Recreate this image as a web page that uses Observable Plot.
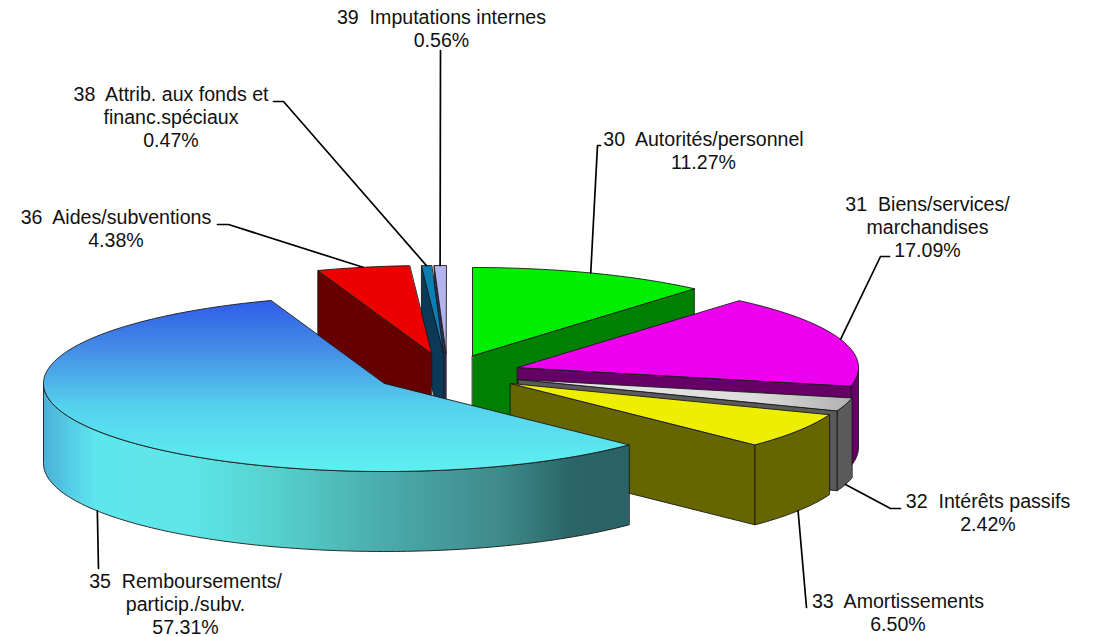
<!DOCTYPE html>
<html>
<head>
<meta charset="utf-8">
<style>html,body{margin:0;padding:0;background:#fff}</style>
<script src="https://cdn.jsdelivr.net/npm/d3@7"></script>
<script src="https://cdn.jsdelivr.net/npm/@observablehq/plot@0.6"></script>
</head>
<body>
<div id="chart"></div>
<script>
// Data
const codes = ["30", "31", "32", "33", "35", "36", "38", "39"];
const labels = [
  "Autorités/personnel",
  "Biens/services/\nmarchandises",
  "Intérêts passifs",
  "Amortissements",
  "Remboursements/\nparticip./subv.",
  "Aides/subventions",
  "Attrib. aux fonds et\nfinanc.spéciaux",
  "Imputations internes"
];
const shares = [11.27, 17.09, 2.42, 6.50, 57.31, 4.38, 0.47, 0.56];

// Styles
const topFills = ["#00ee00", "#ee00ee", "url(#grayTop)", "#eeee00", "url(#blueTop)", "#ee0000", "#0a7fb5", "#b3b3ee"];
const wallFills = ["#008000", "#660066", "#5a5a5a", "#666600", "url(#blueWall)", "#660000", "#0b3a58", "#2e2e5c"];

// Layout of the exploded pie
const rx = 341, ry = 88, depth = 80;
const centreX = [472, 517, 518, 510, 384, 431, 443, 445.6];
const centreY = [355, 367, 379, 383, 383, 353, 353, 353];
const drawOrder = [0, 7, 6, 5, 1, 2, 3, 4];
const labelX = [703, 927, 987.5, 897.5, 185, 115.5, 170.5, 441];
const labelY = [149.5, 226.5, 512, 611.5, 603, 227.5, 116.5, 27.5];
const elbowX = [[597, 600], [880, 889], [890, 900], [806], [98], [228, 217], [283, 273], [440]];
const elbowY = [[145, 145], [256, 256], [508, 508], [607], [568], [224, 224], [101, 101], [50]];

const RAD = Math.PI / 180;
const cum = d3.cumsum(shares);
const startDeg = shares.map((s, i) => (cum[i] - s) * 3.6);
const endDeg = shares.map((s, i) => cum[i] * 3.6);
const rim = (i, a, drop = 0) => ({
  x: centreX[i] + rx * Math.sin(a * RAD),
  y: centreY[i] - ry * Math.cos(a * RAD) + drop
});
const arc = (i, a0, a1, drop = 0) => {
  const n = Math.max(1, Math.ceil(Math.abs(a1 - a0)));
  return d3.range(n + 1).map(k => rim(i, a0 + (a1 - a0) * k / n, drop));
};

const face = (pts, fill) => Plot.line(pts, {
  x: "x", y: "y", fill, stroke: "#1a1a1a", strokeWidth: 0.9,
  curve: "linear-closed", strokeLinejoin: "round"
});

function sliceMarks(i) {
  const a0 = startDeg[i], a1 = endDeg[i];
  const apex = {x: centreX[i], y: centreY[i]};
  const apexLow = {x: apex.x, y: apex.y + depth};
  const marks = [];
  const radial = a => {
    const p = rim(i, a), q = rim(i, a, depth);
    return face([apex, p, q, apexLow], wallFills[i]);
  };
  if (Math.sin(a0 * RAD) < 0) marks.push(radial(a0));
  if (Math.sin(a1 * RAD) >= 0) marks.push(radial(a1));
  const f0 = Math.max(a0, 90), f1 = Math.min(a1, 270);
  if (f1 > f0) {
    marks.push(face([...arc(i, f0, f1), ...arc(i, f1, f0, depth)], wallFills[i]));
  }
  marks.push(face([apex, ...arc(i, a0, a1)], topFills[i]));
  return marks;
}

// Leaders start on the rim at each slice's mid-angle
const leaders = codes.map((c, i) => {
  const mid = (startDeg[i] + endDeg[i]) / 2;
  const front = Math.cos(mid * RAD) < 0;
  return [rim(i, mid, front ? depth : 0), ...elbowX[i].map((x, k) => ({x, y: elbowY[i][k]}))];
});

const labelRows = codes.map((c, i) => ({
  x: labelX[i], y: labelY[i],
  text: `${c}  ${labels[i]}\n${shares[i].toFixed(2)}%`
}));

function gradient(id, horizontal, stops) {
  const ns = "http://www.w3.org/2000/svg";
  const g = document.createElementNS(ns, "linearGradient");
  g.setAttribute("id", id);
  if (horizontal) { g.setAttribute("x2", "1"); g.setAttribute("y2", "0"); }
  else { g.setAttribute("x2", "0"); g.setAttribute("y2", "1"); }
  for (const [o, c] of stops) {
    const s = document.createElementNS(ns, "stop");
    s.setAttribute("offset", o);
    s.setAttribute("stop-color", c);
    g.appendChild(s);
  }
  return g;
}
const defsMark = () => {
  const ns = "http://www.w3.org/2000/svg";
  const d = document.createElementNS(ns, "defs");
  d.appendChild(gradient("blueTop", false, [[0, "#2f5ce8"], [0.3, "#4590e6"], [0.62, "#55d2ee"], [1, "#5ef0f0"]]));
  d.appendChild(gradient("blueWall", true, [[0, "#4bb0d8"], [0.05, "#55cfe6"], [0.09, "#5ee6ee"], [0.25, "#5ee6e8"], [0.4, "#55d0cc"], [0.6, "#4aa8a8"], [0.78, "#3f8a8c"], [0.9, "#2b6568"], [1, "#2a6266"]]));
  d.appendChild(gradient("grayTop", true, [[0, "#e8e8e8"], [0.7, "#dddddd"], [1, "#b0b0b0"]]));
  return d;
};

const chart = Plot.plot({
  width: 1098,
  height: 637,
  margin: 0,
  x: {domain: [0, 1098], range: [0, 1098], axis: null},
  y: {domain: [0, 637], range: [0, 637], axis: null},
  style: {background: "#fff", display: "block"},
  marks: [
    defsMark,
    ...drawOrder.flatMap(sliceMarks),
    ...leaders.map(pts => Plot.line(pts, {x: "x", y: "y", stroke: "#000", strokeWidth: 1.7, strokeLinejoin: "miter"})),
    Plot.text(labelRows, {
      x: "x", y: "y", text: "text", textAnchor: "middle", lineAnchor: "middle",
      lineHeight: 1.17, fontSize: 19.6, fontFamily: "'Liberation Sans', Arial, sans-serif", fill: "#111"
    })
  ]
});
document.getElementById("chart").appendChild(chart);
</script>
</body>
</html>
